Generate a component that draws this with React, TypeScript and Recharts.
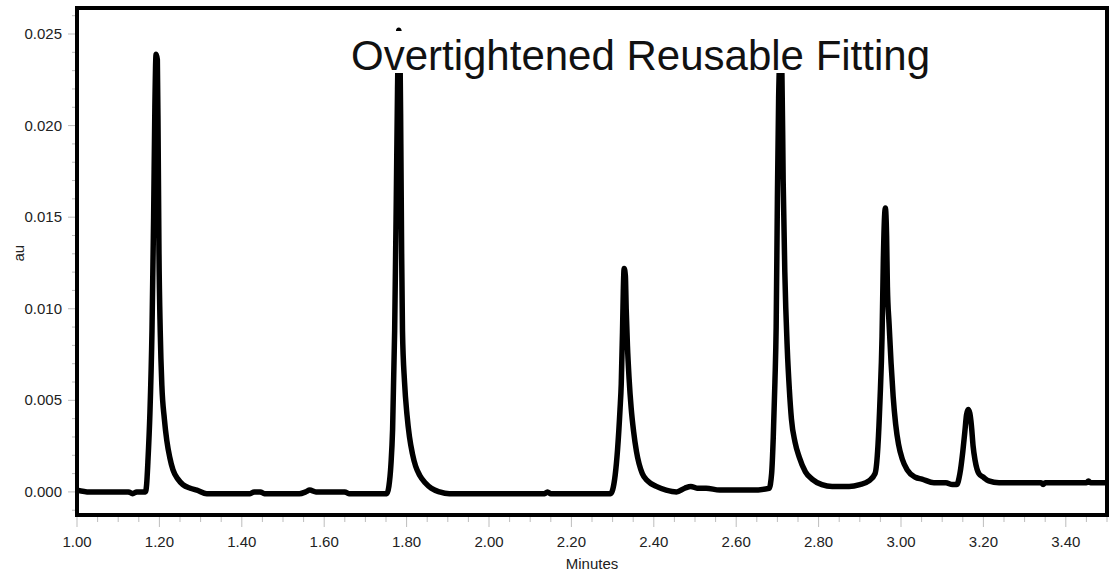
import React from 'react';
import { LineChart, Line, XAxis, YAxis, ReferenceArea } from 'recharts';

// retention time (minutes) and absorbance (au)
const times = [
  1.0, 1.03, 1.1, 1.125, 1.135, 1.145, 1.166, 1.169, 1.172, 1.177, 1.182, 1.186, 1.189, 1.192,
  1.195, 1.197, 1.199, 1.202, 1.206, 1.212, 1.218, 1.225, 1.233, 1.245, 1.257, 1.275, 1.291, 1.315,
  1.42, 1.43, 1.445, 1.455, 1.54, 1.555, 1.565, 1.58, 1.65, 1.66,
  1.752, 1.757, 1.762, 1.766, 1.771, 1.775, 1.778, 1.781, 1.784, 1.786, 1.788, 1.79, 1.795, 1.801,
  1.807, 1.814, 1.822, 1.832, 1.845, 1.86, 1.88, 1.904, 2.135, 2.142, 2.15,
  2.295, 2.3, 2.312, 2.318, 2.321, 2.324, 2.326, 2.328, 2.331, 2.333, 2.336, 2.34, 2.345, 2.351,
  2.358, 2.372, 2.385, 2.406, 2.43, 2.455, 2.475, 2.49, 2.505, 2.527, 2.56, 2.607, 2.64, 2.68,
  2.686, 2.69, 2.694, 2.697, 2.7, 2.703, 2.707, 2.711, 2.714, 2.718, 2.724, 2.729, 2.734, 2.743,
  2.753, 2.768, 2.784, 2.808, 2.833, 2.874, 2.9, 2.922, 2.937, 2.944, 2.949, 2.954, 2.957, 2.96,
  2.962, 2.965, 2.967, 2.971, 2.976, 2.981, 2.987, 2.994, 3.003, 3.015, 3.035, 3.051, 3.08, 3.109,
  3.125, 3.135, 3.143, 3.15, 3.155, 3.159, 3.163, 3.167, 3.171, 3.175, 3.18, 3.189, 3.2, 3.213,
  3.238, 3.34, 3.345, 3.35, 3.45, 3.455, 3.46, 3.5,
];
const absorbance = [
  0.0001, 0.0, 0.0, 0.0, -0.0001, 0.0, 0.0, 0.0004, 0.0016, 0.0043, 0.0088, 0.015, 0.021, 0.0239,
  0.0236, 0.019, 0.013, 0.0088, 0.0058, 0.004, 0.0028, 0.0019, 0.0012, 0.0007, 0.0004, 0.0002, 0.0001, -0.0001,
  -0.0001, 0.0, 0.0, -0.0001, -0.0001, 0.0, 0.0001, 0.0, 0.0, -0.0001,
  -0.0001, 0.0003, 0.0015, 0.0034, 0.0088, 0.016, 0.022, 0.0252, 0.024, 0.019, 0.013, 0.0088, 0.006, 0.0042,
  0.003, 0.0021, 0.0014, 0.0009, 0.0005, 0.0002, 0.0, -0.0001, -0.0001, 0.0, -0.0001,
  -0.0001, 0.0001, 0.0023, 0.0045, 0.0059, 0.0087, 0.011, 0.0122, 0.0118, 0.01, 0.008, 0.0062, 0.0046, 0.0033,
  0.0022, 0.001, 0.0006, 0.0003, 0.0001, 0.0, 0.0002, 0.0003, 0.0002, 0.0002, 0.0001, 0.0001, 0.0001, 0.0002,
  0.001, 0.003, 0.006, 0.009, 0.016, 0.0215, 0.024, 0.0228, 0.017, 0.012, 0.0078, 0.0056, 0.004, 0.0027,
  0.0019, 0.0011, 0.0007, 0.0004, 0.0003, 0.0003, 0.0004, 0.0006, 0.001, 0.0025, 0.005, 0.0085, 0.0125, 0.015,
  0.0155, 0.014, 0.0112, 0.0092, 0.007, 0.0052, 0.0037, 0.0026, 0.0018, 0.0012, 0.0008, 0.0007, 0.0005, 0.0005,
  0.0004, 0.0004, 0.001, 0.0022, 0.0033, 0.0042, 0.0045, 0.0043, 0.0036, 0.0025, 0.0017, 0.001, 0.0008, 0.0006,
  0.0005, 0.0005, 0.0004, 0.0005, 0.0005, 0.0006, 0.0005, 0.0005,
];

const xTicks = [
  1.0, 1.05, 1.1, 1.15, 1.2, 1.25, 1.3, 1.35, 1.4, 1.45, 1.5, 1.55, 1.6, 1.65, 1.7, 1.75, 1.8,
  1.85, 1.9, 1.95, 2.0, 2.05, 2.1, 2.15, 2.2, 2.25, 2.3, 2.35, 2.4, 2.45, 2.5, 2.55, 2.6, 2.65,
  2.7, 2.75, 2.8, 2.85, 2.9, 2.95, 3.0, 3.05, 3.1, 3.15, 3.2, 3.25, 3.3, 3.35, 3.4, 3.45, 3.5,
];
const xLabels = ['1.00', '1.20', '1.40', '1.60', '1.80', '2.00', '2.20', '2.40', '2.60', '2.80', '3.00', '3.20', '3.40'];

const yTicks = [
  -0.001, 0.0, 0.001, 0.002, 0.003, 0.004, 0.005, 0.006, 0.007, 0.008, 0.009, 0.01, 0.011, 0.012,
  0.013, 0.014, 0.015, 0.016, 0.017, 0.018, 0.019, 0.02, 0.021, 0.022, 0.023, 0.024, 0.025, 0.026,
];
const yLabels = ['0.000', '0.005', '0.010', '0.015', '0.020', '0.025'];

const xDomain = [1.0, 3.5];
const yDomain = [-0.00126, 0.02642];

const title = 'Overtightened Reusable Fitting';

const chartData = times.map((t, i) => ({ t, au: absorbance[i] }));

const FONT = '"Liberation Sans", Arial, sans-serif';
const TICK_GRAY = '#bdbdbd';

const YTick = ({ x, y, payload }: any) => {
  const label = payload.value.toFixed(3);
  const major = yLabels.includes(label);
  return (
    <g>
      <line x1={major ? x - 9 : x - 5} x2={x - 2} y1={y} y2={y} stroke={TICK_GRAY} />
      {major && (
        <text x={x - 15} y={y} dy={5} textAnchor="end" fontSize={15} fontFamily={FONT} fill="#222">
          {label}
        </text>
      )}
    </g>
  );
};

const XTick = ({ x, y, payload }: any) => {
  const label = payload.value.toFixed(2);
  const major = xLabels.includes(label);
  return (
    <g>
      <line x1={x} x2={x} y1={y + 2} y2={major ? y + 12 : y + 7} stroke={TICK_GRAY} />
      {major && (
        <text x={x} y={y + 32} textAnchor="middle" fontSize={15} fontFamily={FONT} fill="#222">
          {label}
        </text>
      )}
    </g>
  );
};

export default function App() {
  return (
    <div style={{ position: 'absolute', left: 0, top: 0, width: 1110, height: 577, background: '#fff' }}>
      <LineChart width={1110} height={577} data={chartData} margin={{ top: 8, right: 3, left: 7, bottom: 22 }}>
        <XAxis
          dataKey="t"
          type="number"
          domain={xDomain}
          ticks={xTicks}
          interval={0}
          allowDataOverflow
          height={40}
          tickSize={0}
          tickMargin={0}
          tickLine={false}
          axisLine={false}
          tick={<XTick />}
          label={{ value: 'Minutes', position: 'insideBottom', offset: -14, fontSize: 15, fontFamily: FONT, fill: '#222' }}
        />
        <YAxis
          type="number"
          domain={yDomain}
          ticks={yTicks}
          interval={0}
          allowDataOverflow
          width={70}
          tickSize={0}
          tickMargin={0}
          tickLine={false}
          axisLine={false}
          tick={<YTick />}
          label={{ value: 'au', angle: -90, position: 'insideLeft', offset: 12, fontSize: 15, fontFamily: FONT, fill: '#222' }}
        />
        {/* plot frame */}
        <ReferenceArea
          x1={xDomain[0]}
          x2={xDomain[1]}
          y1={yDomain[0]}
          y2={yDomain[1]}
          fill="none"
          fillOpacity={0}
          stroke="#000"
          strokeWidth={4}
          ifOverflow="visible"
        />
        <Line
          dataKey="au"
          type="monotone"
          stroke="#000"
          strokeWidth={5.5}
          strokeLinejoin="round"
          dot={false}
          activeDot={false}
          isAnimationActive={false}
        />
      </LineChart>
      {/* title sits on a white box that hides the tops of the tallest peaks */}
      <svg width={1110} height={577} style={{ position: 'absolute', left: 0, top: 0, pointerEvents: 'none' }}>
        <rect x={345} y={31} width={595} height={42} fill="#fff" />
        <text x={351} y={70} fontSize={42} fontFamily={FONT} fill="#111">
          {title}
        </text>
      </svg>
    </div>
  );
}
